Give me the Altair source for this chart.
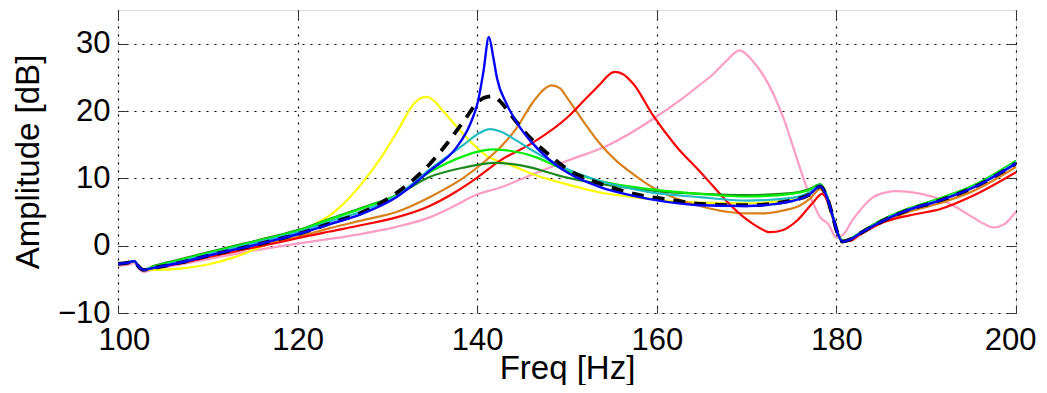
import altair as alt
import pandas as pd

# ---------------- data ----------------
pink_f = [100, 101, 101.8, 102.3, 102.8, 104, 107, 110, 114, 118, 120, 123.6, 127.3, 131, 134.7, 137, 140, 142.5,
          146.2, 150, 154.4, 159.8, 162.6, 164.8, 166.3, 167.8, 169.2, 170.7, 172, 173, 174.2, 175.2, 176.7, 177.5,
          178.2, 179.1, 180.0, 180.8, 181.7, 182.6, 184.1, 185.5, 186.7, 189, 191.5, 193.5, 195.2, 196.5, 197.5,
          198.7, 200]
pink_v = [-3.0, -2.85, -2.6, -3.4, -3.9, -3.5, -2.8, -2.0, -1.0, -0.1, 0.3, 1.0, 1.8, 2.8, 4.2, 5.6, 7.6, 8.6,
          10.6, 12.6, 14.8, 19.0, 21.6, 23.9, 25.5, 27.5, 29.0, 27.4, 25.0, 22.5, 18.6, 14.6, 8.6, 6.0,
          4.2, 3.2, 1.2, 1.7, 3.6, 5.2, 7.2, 7.9, 8.1, 7.8, 6.9, 5.6, 4.2, 3.2, 2.7,
          3.2, 5.1]

yellow_f = [100, 101, 101.8, 102.3, 102.8, 104, 107, 110, 113, 116.6, 120.3, 124, 127.5, 129.5, 131.2, 132.9, 133.7,
            134.4, 135.2, 136.2, 138.5, 141.1, 143.7, 146.2, 150, 153.7, 157.4, 161.1, 165, 170, 175, 177, 178.2,
            179.0, 179.6, 180.2, 180.7, 181.5, 182.6, 184.9, 187.8, 191.5, 195.2, 200]
yellow_v = [-2.7, -2.55, -2.3, -3.1, -3.6, -3.6, -3.4, -2.8, -1.7, 0.2, 2.2, 4.9, 9.8, 13.5, 17.2, 21.0, 21.9,
            22.1, 21.5, 20.0, 16.5, 13.3, 12.0, 10.6, 9.1, 7.9, 7.2, 6.7, 6.4, 6.3, 6.8, 7.7, 8.8,
            7.0, 4.3, 1.6, 0.6, 0.9, 1.8, 3.5, 5.2, 6.7, 8.6, 12.2]

orange_f = [100, 101, 101.8, 102.3, 102.8, 104, 107, 110, 114, 118, 120, 123.6, 127.3, 131, 134.7, 138.5, 141.1,
            142.5, 144.4, 146.2, 147.5, 148.3, 149.2, 150, 151.8, 153.7, 155.5, 157.4, 159.6, 161.8, 164.8, 168,
            170, 172, 174, 176, 177, 178.2, 179.0, 179.6, 180.2, 180.7, 181.5, 182.6, 184.9, 187.8, 191.5, 195.2,
            200]
orange_v = [-2.7, -2.55, -2.3, -3.1, -3.6, -3.3, -2.5, -1.6, -0.5, 0.7, 1.3, 2.6, 3.8, 5.0, 7.2, 10.1, 12.8,
            14.5, 17.5, 21.3, 23.3, 23.8, 23.4, 22.0, 18.5, 15.1, 12.6, 10.6, 8.6, 7.2, 5.9, 5.0,
            4.8, 4.8, 5.2, 6.0, 6.9, 8.4, 6.6, 4.0, 1.5, 0.6, 0.8, 1.7, 3.3, 4.9, 6.3, 8.1,
            11.7]

red_f = [100, 101, 101.8, 102.3, 102.8, 104, 107, 110, 114, 118, 120, 123.6, 127.3, 131, 134.7, 137.5, 140, 142.5,
         146.2, 150, 152, 153.7, 154.6, 155.3, 156.2, 157.4, 159.6, 162.2, 164.8, 166.3, 168, 170, 171.5, 172.6,
         174, 175.6, 177.4, 178.4, 179.3, 180.0, 180.7, 181.5, 182.6, 184.9, 188.9, 191.5, 195.2, 200]
red_v = [-2.7, -2.55, -2.3, -3.1, -3.6, -3.3, -2.6, -1.7, -0.6, 0.5, 1.1, 2.1, 3.1, 4.2, 5.9, 7.9, 10.1, 12.6,
         15.3, 19.0, 21.7, 24.0, 25.3, 25.8, 25.5, 24.0, 19.3, 14.7, 11.0, 8.8, 6.3, 3.9, 2.6, 2.0,
         2.3, 3.7, 6.4, 7.7, 5.7, 2.5, 0.6, 0.7, 1.6, 3.3, 4.7, 5.4, 7.4, 10.9]

dkgreen_f = [100, 101, 101.8, 102.3, 102.8, 104, 107, 110, 114, 118, 120, 123.6, 127.3, 131, 134.7, 138.5, 142,
             145, 150, 155, 160, 164.8, 170, 175, 177, 178.2, 179.0, 179.6, 180.2, 180.7, 181.5, 182.6, 184.9,
             187.8, 191.5, 195.2, 200]
dkgreen_v = [-2.7, -2.55, -2.3, -3.1, -3.6, -3.0, -2.0, -1.0, 0.3, 1.6, 2.3, 4.0, 5.7, 7.5, 10.2, 11.6, 12.3,
             11.9, 10.1, 8.9, 8.1, 7.7, 7.5, 7.8, 8.4, 9.1, 7.2, 4.4, 1.7, 0.7, 1.0, 1.9, 3.7,
             5.4, 7.0, 8.9, 12.6]

green_f = [100, 101, 101.8, 102.3, 102.8, 104, 107, 110, 114, 118, 120, 123.6, 127.3, 131, 134.7, 138.5, 140.2,
           141.6, 143, 146.2, 150, 153.7, 159.2, 164.8, 170, 175, 177, 178.2, 179.0, 179.6, 180.2, 180.7, 181.5,
           182.6, 184.9, 187.8, 191.5, 195.2, 200]
green_v = [-2.7, -2.55, -2.3, -3.1, -3.6, -3.1, -2.1, -1.1, 0.2, 1.5, 2.2, 3.9, 5.6, 7.5, 10.9, 13.3, 14.0,
           14.3, 14.2, 13.3, 11.1, 9.6, 8.4, 7.7, 7.3, 7.7, 8.3, 9.1, 7.2, 4.4, 1.7, 0.7, 1.0,
           1.9, 3.7, 5.4, 7.0, 8.9, 12.6]

cyan_f = [100, 101, 101.8, 102.3, 102.8, 104, 107, 110, 114, 118, 120, 123.6, 127.3, 131, 134.7, 138.5, 140.2,
          141.4, 142.5, 144.4, 146.2, 150, 153.7, 159, 164.8, 170, 175, 177, 178.2, 179.0, 179.6, 180.2, 180.7,
          181.5, 182.6, 184.9, 187.8, 191.5, 195.2, 200]
cyan_v = [-2.7, -2.55, -2.3, -3.1, -3.6, -3.2, -2.3, -1.3, 0.0, 1.3, 2.0, 3.6, 5.2, 7.4, 11.3, 15.0, 16.7,
          17.3, 17.0, 15.6, 14.1, 11.4, 9.6, 8.0, 7.2, 6.7, 7.1, 7.9, 9.0, 7.1, 4.3, 1.6, 0.6,
          0.9, 1.8, 3.6, 5.3, 6.8, 8.7, 12.4]

dashed_f = [100, 101, 101.8, 102.3, 102.8, 104, 107, 110, 114, 118, 120, 123.6, 127.3, 131, 132.9, 134.7, 136.6,
            138.5, 140.3, 141.1, 141.8, 142.5, 144, 145.9, 147.9, 150, 153.3, 155.5, 158.5, 161.1, 164.8, 170,
            175, 177, 178.2, 179.0, 179.6, 180.2, 180.7, 181.5, 182.6, 184.9, 187.8, 191.5, 195.2, 200]
dashed_v = [-2.7, -2.55, -2.3, -3.1, -3.6, -3.3, -2.5, -1.5, -0.3, 1.0, 1.7, 3.3, 5.0, 7.8, 9.8, 12.1, 15.1,
            18.5, 21.6, 22.1, 22.2, 21.5, 19.0, 16.0, 13.6, 11.4, 9.4, 8.4, 7.4, 6.9, 6.2, 6.0,
            6.7, 7.6, 8.8, 7.0, 4.3, 1.6, 0.6, 0.9, 1.8, 3.5, 5.2, 6.7, 8.6, 12.2]

blue_f = [100, 101, 101.8, 102.3, 102.8, 104, 107, 110, 114, 118, 120, 123.6, 127.3, 131, 134.7, 137.7, 139.2,
          140.1, 140.7, 141.3, 141.8, 142.2, 143.3, 144.8, 145.9, 148, 150, 153.7, 157.4, 161.1, 164.8, 170, 175,
          177, 178.2, 179.0, 179.6, 180.2, 180.7, 181.5, 182.6, 184.9, 187.8, 191.5, 195.2, 200]
blue_v = [-2.7, -2.55, -2.3, -3.1, -3.6, -3.3, -2.5, -1.5, -0.3, 1.0, 1.7, 3.2, 4.8, 7.2, 11.1, 14.6, 18.0,
          21.5, 25.9, 31.0, 27.9, 24.9, 21.0, 17.5, 15.6, 12.8, 10.9, 8.7, 7.4, 6.5, 6.0, 5.9, 6.6,
          7.6, 8.8, 7.0, 4.3, 1.6, 0.6, 0.9, 1.8, 3.5, 5.2, 6.7, 8.6, 12.2]

x_ticks = [100, 120, 140, 160, 180, 200]
y_ticks = [-10, 0, 10, 20, 30]
x_domain = [100, 200]
y_domain = [-10, 35]

# draw order (first = bottom)
series = [
    ("pink", pink_f, pink_v, "#FF9CC4", 2.2, None),
    ("yellow", yellow_f, yellow_v, "#FFFF00", 2.2, None),
    ("orange", orange_f, orange_v, "#D98019", 2.2, None),
    ("red", red_f, red_v, "#FF0000", 2.2, None),
    ("darkgreen", dkgreen_f, dkgreen_v, "#1B8A1B", 2.2, None),
    ("green", green_f, green_v, "#00F000", 2.2, None),
    ("cyan", cyan_f, cyan_v, "#20BCC4", 2.2, None),
    ("dashed", dashed_f, dashed_v, "#000000", 3.8, [12, 9]),
    ("blue", blue_f, blue_v, "#0000FF", 2.4, None),
]

FONT = "Liberation Sans"

x_scale = alt.Scale(domain=x_domain, nice=False, zero=False)
y_scale = alt.Scale(domain=y_domain, nice=False, zero=False)

x_axis = alt.Axis(values=x_ticks, title="Freq [Hz]", grid=True, gridDash=[2, 6], gridColor="#000000",
                  gridOpacity=1, gridWidth=1.2, domain=False, ticks=True, tickSize=8, tickColor="#333333",
                  offset=-8, labelPadding=12, labelFontSize=31, labelFont=FONT, labelColor="#000000",
                  labelFlush=True, labelFlushOffset=20, labelOverlap=False,
                  titleFont=FONT, titleFontSize=33, titleFontWeight="normal", titleColor="#000000",
                  titleX=449, titleY=73, titleBaseline="alphabetic", titleAlign="center")
y_axis = alt.Axis(values=y_ticks, title="Amplitude [dB]", grid=True, gridDash=[2, 6], gridColor="#000000",
                  gridOpacity=1, gridWidth=1.2, domain=False, ticks=True, tickSize=8, tickColor="#333333",
                  offset=-8, labelPadding=8, labelFontSize=31, labelFont=FONT, labelColor="#000000",
                  labelFlush=False, labelOverlap=False,
                  titleFont=FONT, titleFontSize=33, titleFontWeight="normal", titleColor="#000000",
                  titleAngle=270, titleX=-98, titleY=151.5, titleBaseline="middle", titleAlign="center")

layers = []
for i, (name, f, v, color, w, dash) in enumerate(series):
    df = pd.DataFrame({"freq": f, "amp": v})
    mark_kwargs = dict(color=color, strokeWidth=w, interpolate="monotone", clip=True)
    if dash is not None:
        mark_kwargs["strokeDash"] = dash
    if i == 0:
        xe = alt.X("freq:Q", scale=x_scale, axis=x_axis)
        ye = alt.Y("amp:Q", scale=y_scale, axis=y_axis)
    else:
        xe = alt.X("freq:Q", scale=x_scale, axis=None)
        ye = alt.Y("amp:Q", scale=y_scale, axis=None)
    layers.append(alt.Chart(df).mark_line(**mark_kwargs).encode(x=xe, y=ye))

# top / right inward ticks (box style)
corner_df = pd.DataFrame({"freq": x_domain, "amp": y_domain})
top_axis = alt.Axis(orient="top", values=x_ticks, labels=False, title=None, grid=False, domain=False,
                    ticks=True, tickSize=8, tickColor="#333333", offset=-8)
right_axis = alt.Axis(orient="right", values=y_ticks, labels=False, title=None, grid=False, domain=False,
                      ticks=True, tickSize=8, tickColor="#333333", offset=-8)
frame_layer = alt.Chart(corner_df).mark_point(opacity=0).encode(
    x=alt.X("freq:Q", scale=x_scale, axis=top_axis),
    y=alt.Y("amp:Q", scale=y_scale, axis=right_axis),
)

chart = alt.layer(*layers, frame_layer).resolve_axis(x="independent", y="independent").properties(
    width=898, height=303,
    padding={"left": 110, "top": 2, "right": 22, "bottom": 72},
    autosize=alt.AutoSizeParams(type="none"),
).configure_view(stroke="#333333", strokeWidth=1).configure(background="white")

chart.save("out.html", embed_options={"renderer": "svg", "actions": False})
